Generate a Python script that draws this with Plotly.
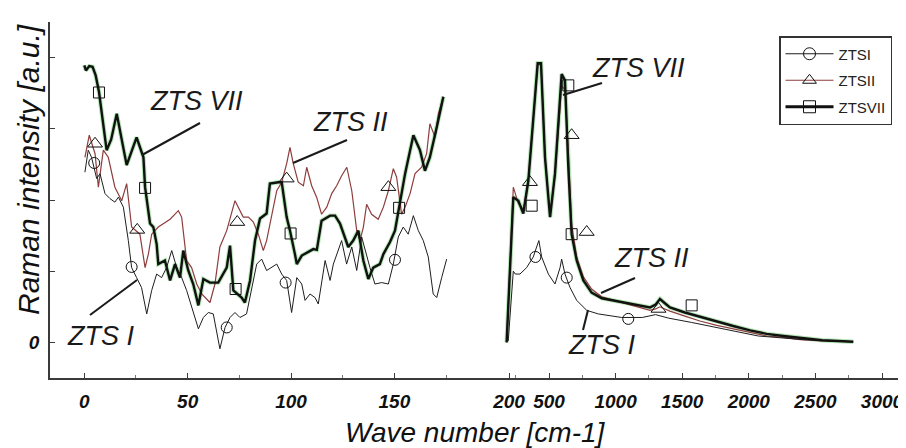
import plotly.graph_objects as go

# ---------------- data ----------------
# Left panel (0-175 cm-1)
L_I_x = [0.3, 1.9, 3.5, 6, 7.6, 10, 12.4, 14.8, 16.5, 18.9, 21.3, 22.9, 25.3, 27.7, 30.2, 32.6, 35, 37.4, 39.8, 42.3,
         44.7, 47.1, 49.5, 51.9, 55.2, 57.6, 60, 62.4, 65.6, 68.1, 70.5, 72.9, 75.3, 78.5, 81, 83.4, 85.8, 88.2, 93.1, 95.5,
         97.9, 100.3, 102.8, 105.2, 106.8, 109.2, 111.6, 113.2, 116.5, 118.9, 120.5, 124.5, 126.9, 129.4, 131.8, 134.2, 138.2, 140.6, 143.9, 147.1,
         149.5, 151.9, 154.3, 156.7, 159.2, 161.6, 164, 166.4, 168.8, 170.5, 172.9, 175.3]
L_I_y = [2.39, 2.70, 2.60, 2.30, 2.37, 2.09, 2.02, 1.97, 2.04, 1.90, 1.43, 1.05, 0.91, 0.77, 0.40, 0.73, 0.96, 0.91, 1.05, 1.29,
         1.05, 0.91, 0.73, 0.49, 0.19, 0.35, 0.42, 0.40, -0.09, 0.21, 0.35, 0.42, 0.35, 0.40, 0.77, 1.10, 1.17, 1.01, 1.10, 0.96,
         0.87, 0.42, 0.91, 0.82, 0.59, 0.68, 0.63, 0.54, 1.15, 0.87, 1.10, 1.43, 1.10, 1.34, 1.01, 1.48, 1.05, 0.82, 0.84, 0.82,
         1.10, 1.48, 1.62, 1.52, 1.78, 1.57, 1.43, 1.20, 0.68, 0.63, 0.91, 1.17]

L_II_x = [0.3, 2.4, 5.2, 6.8, 9.2, 11.6, 14.8, 18.1, 20.5, 22.9, 26.9, 29.4, 31, 32.6, 35.8, 41.5, 45.5, 47.1, 49.5, 51.9,
          54.4, 56.8, 60.8, 63.2, 65.6, 68.9, 72.9, 74.5, 76.9, 79.4, 81.8, 84.2, 86.6, 88.2, 90.6, 93.1, 95.5, 97.9, 99.5, 101.1,
          103.5, 106, 107.6, 110, 112.4, 114.8, 117.3, 119.7, 122.1, 124.5, 127, 129.4, 131.8, 133.4, 135, 136.6, 139, 142.2, 144.7, 147.1,
          149.5, 151.1, 153.5, 155.2, 157.6, 160, 163.2, 165.6, 167.2, 169.7, 171.3, 173.7]
L_II_y = [2.60, 2.91, 2.65, 2.18, 2.70, 2.60, 2.18, 1.99, 2.23, 1.62, 1.52, 1.05, 1.24, 1.52, 1.62, 1.73, 1.85, 1.76, 1.15, 1.05,
          0.82, 0.68, 0.56, 0.82, 1.34, 1.57, 1.99, 1.90, 1.76, 1.76, 1.69, 1.52, 1.29, 1.43, 1.76, 2.13, 2.25, 2.51, 2.74, 2.51,
          2.25, 2.20, 2.46, 2.20, 2.04, 1.80, 1.90, 2.09, 2.20, 2.34, 2.46, 2.13, 1.57, 1.43, 1.62, 1.94, 1.80, 1.73, 1.90, 2.13,
          2.44, 2.32, 1.80, 1.90, 2.09, 2.37, 2.46, 2.65, 3.07, 2.88, 3.21, 3.45]

L_VII_x = [0, 0.8, 2.4, 4, 5.5, 7.1, 10.8, 13, 15.7, 18, 20.5, 25.3, 28.6, 29.4, 31.8, 33.4, 35, 35.8, 39, 41.5,
           43.9, 46.3, 47.9, 50.3, 52.7, 55.2, 57.6, 60.8, 64.8, 68.9, 70.5, 72.1, 76.1, 77.7, 80.2, 82.6, 85, 88.2, 89.8, 93.9,
           95.5, 97.9, 99.5, 101.9, 102.8, 105.2, 110.8, 112.5, 114.8, 118.9, 121.3, 123.7, 127.7, 130.1, 132.6, 135, 137.4, 139.8, 143, 144.7,
           147.9, 150.3, 155.2, 159.2, 162.4, 164.8, 167.2, 170.5, 173.7]
L_VII_y = [3.89, 3.82, 3.88, 3.87, 3.75, 3.52, 2.70, 2.85, 3.21, 2.85, 2.49, 2.88, 2.60, 2.18, 1.67, 1.62, 1.38, 1.10, 1.15, 0.87,
           1.10, 0.91, 1.29, 1.01, 0.82, 0.52, 0.89, 0.84, 0.84, 1.05, 1.36, 0.73, 0.63, 0.56, 0.87, 1.43, 1.74, 1.81, 2.23, 2.25,
           2.25, 1.76, 1.57, 1.24, 1.10, 1.22, 1.31, 1.30, 1.71, 1.78, 1.78, 1.67, 1.34, 1.43, 1.57, 1.15, 0.89, 1.05, 1.10, 1.24,
           1.41, 1.57, 2.37, 2.91, 2.70, 2.41, 2.60, 3.02, 3.45]

# Right panel (200-3000 cm-1)
R_I_x = [194, 232, 247, 282, 332, 382, 407, 424, 445, 495, 545, 583, 595, 620, 658, 708, 783, 870, 1046, 1200,
         1300, 1400, 1571, 1800, 2071, 2400, 2784]
R_I_y = [0.02, 1.0, 0.96, 0.96, 1.05, 1.20, 1.34, 1.43, 1.20, 0.96, 0.82, 1.05, 1.17, 0.96, 0.77, 0.59, 0.45, 0.40, 0.35, 0.35,
         0.39, 0.34, 0.28, 0.19, 0.09, 0.04, 0.01]

R_x = [182, 207, 232, 270, 295, 307, 345, 370, 395, 415, 440, 470, 495, 508, 545, 570, 595, 620, 645, 670,
       708, 758, 820, 896, 1008, 1150, 1258, 1300, 1333, 1370, 1408, 1520, 1633, 1760, 1883, 2010, 2134, 2260, 2384, 2550,
       2784]
R_II_y = [0.0, 1.05, 2.18, 1.95, 1.9, 1.85, 2.3, 2.86, 3.5, 3.9, 3.9, 2.6, 2.06, 1.8, 2.35, 3.0, 3.6, 3.55, 2.7, 1.65,
          1.2, 0.92, 0.75, 0.64, 0.58, 0.50, 0.45, 0.47, 0.50, 0.47, 0.44, 0.37, 0.30, 0.24, 0.19, 0.14, 0.09, 0.07, 0.04, 0.02,
          0.01]
R_VII_y = [0.0, 0.96, 2.04, 1.99, 1.85, 1.81, 2.27, 2.84, 3.5, 3.92, 3.92, 2.6, 2.04, 1.76, 2.37, 3.07, 3.77, 3.68, 2.46, 1.52,
           1.15, 0.87, 0.70, 0.62, 0.58, 0.53, 0.49, 0.53, 0.61, 0.55, 0.49, 0.42, 0.36, 0.29, 0.23, 0.17, 0.12, 0.09, 0.06, 0.03,
           0.01]

# Sparse symbol positions
L_I_mx, L_I_my = [4.8, 22.9, 68.9, 97.4, 150.3], [2.52, 1.06, 0.21, 0.84, 1.16]
L_II_mx, L_II_my = [5.2, 25.6, 74, 97.9, 147.1], [2.79, 1.58, 1.69, 2.30, 2.18]
L_VII_mx, L_VII_my = [7.1, 29.4, 73.2, 99.8, 152.3], [3.51, 2.17, 0.75, 1.53, 1.89]
R_I_mx, R_I_my = [398, 633, 1095], [1.20, 0.91, 0.33]
R_II_mx, R_II_my = [357, 670, 783, 1322], [2.25, 2.91, 1.55, 0.47]
R_VII_mx, R_VII_my = [370, 645, 670, 1571], [1.92, 3.61, 1.52, 0.52]

left_ticks = [0, 50, 100, 150]
left_minor = [25, 75, 125, 175]
right_ticks = [200, 500, 1000, 1500, 2000, 2500, 3000]
right_minor = [250, 750, 1250, 1750, 2250, 2750]
y_ticks = [0, 1, 2, 3, 4]
y_ticktext = ["0", "", "", "", ""]

series_names = ["ZTSI", "ZTSII", "ZTSVII"]

# ---------------- styles ----------------
FONT = "Liberation Sans, Arial, sans-serif"
C_I = "#1e1e1e"
C_II = "#8e3d3d"
C_VII = "#111111"
HALO = "rgba(90,200,90,0.45)"
OFF = 8                      # default page margin of the html body
W, H = 906 - OFF, 448 - OFF
ML, MR, MT, MB = 50 - OFF, 2, 22 - OFF, 70
PW, PH = W - ML - MR, H - MT - MB
split = (475 - OFF - ML) / PW


def px(xp):
    """page pixel -> paper fraction"""
    return (xp - OFF - ML) / PW


def py(yp):
    return (H - MB - (yp - OFF)) / PH


fig = go.Figure()


def add_line(x, y, xa, ya, color, width):
    fig.add_trace(go.Scatter(x=x, y=y, mode="lines", xaxis=xa, yaxis=ya, showlegend=False,
                             line=dict(color=color, width=width), hoverinfo="skip"))


def add_marks(x, y, xa, ya, symbol, size):
    fig.add_trace(go.Scatter(x=x, y=y, mode="markers", xaxis=xa, yaxis=ya, showlegend=False,
                             marker=dict(symbol=symbol, size=size, color="#111111",
                                         line=dict(width=1, color="#111111")), hoverinfo="skip"))


for xa, ya, xI, yI, xII, yII, xV, yV in [
    ("x", "y", L_I_x, L_I_y, L_II_x, L_II_y, L_VII_x, L_VII_y),
    ("x2", "y2", R_I_x, R_I_y, R_x, R_II_y, R_x, R_VII_y),
]:
    add_line(xV, yV, xa, ya, HALO, 4.4)
    add_line(xII, yII, xa, ya, C_II, 1.2)
    add_line(xI, yI, xa, ya, C_I, 1.0)
    add_line(xV, yV, xa, ya, C_VII, 2.4)

add_marks(L_I_mx, L_I_my, "x", "y", "circle-open", 11)
add_marks(L_II_mx, L_II_my, "x", "y", "triangle-up-open", 13)
add_marks(L_VII_mx, L_VII_my, "x", "y", "square-open", 11)
add_marks(R_I_mx, R_I_my, "x2", "y2", "circle-open", 11)
add_marks(R_II_mx, R_II_my, "x2", "y2", "triangle-up-open", 13)
add_marks(R_VII_mx, R_VII_my, "x2", "y2", "square-open", 11)

# legend entries
for i, (name, col, wid, sym) in enumerate(zip(series_names, [C_I, C_II, C_VII], [1.0, 1.2, 3.0],
                                              ["circle-open", "triangle-up-open", "square-open"])):
    fig.add_trace(go.Scatter(x=[None], y=[None], mode="lines+markers", name=name, xaxis="x", yaxis="y",
                             legendgroup="g%d" % i,
                             line=dict(color=col, width=wid),
                             marker=dict(symbol=sym, size=12, color="#111111", line=dict(width=1, color="#111111"))))

axis_common = dict(showline=True, linecolor="#3a3a3a", linewidth=1.6, ticks="inside", ticklen=5,
                   tickcolor="#3a3a3a", tickwidth=1.2, showgrid=False, zeroline=False,
                   tickfont=dict(family=FONT, size=19, color="#111111", style="italic", weight="bold"),
                   ticklabelstandoff=5)

fig.update_layout(
    width=W, height=H, margin=dict(l=ML, r=MR, t=MT, b=MB, autoexpand=False),
    paper_bgcolor="white", plot_bgcolor="white",
    xaxis=dict(domain=[0, split], range=[(50 - 84.3) / 2.067, (475 - 84.3) / 2.067], anchor="y",
               tickmode="array", tickvals=left_ticks,
               minor=dict(tickmode="array", tickvals=left_minor, ticks="inside", ticklen=3, tickcolor="#777777"),
               **axis_common),
    xaxis2=dict(domain=[split, 1], range=[500 + (475 - 549) / 0.1332, 500 + (904 - 549) / 0.1332], anchor="y2",
                tickmode="array", tickvals=right_ticks,
                minor=dict(tickmode="array", tickvals=right_minor, ticks="inside", ticklen=3, tickcolor="#777777"),
                **axis_common),
    yaxis=dict(domain=[0, 1], range=[-0.5, 4.5], anchor="x", tickmode="array", tickvals=y_ticks,
               ticktext=y_ticktext, **axis_common),
    yaxis2=dict(domain=[0, 1], range=[-0.5, 4.5], anchor="x2", matches="y", visible=False),
    legend=dict(x=px(779), y=py(36), xanchor="left", yanchor="top", bgcolor="white",
                bordercolor="#333333", borderwidth=1.5, tracegroupgap=4, itemwidth=48,
                entrywidth=70,
                font=dict(family=FONT, size=15, color="#222222")),
    showlegend=True,
)

# axis titles
fig.add_annotation(text="Wave number [cm-1]", xref="paper", yref="paper", x=px(475), y=py(432),
                   xanchor="center", yanchor="middle",
                   showarrow=False, font=dict(family=FONT, size=28, color="#111111", style="italic"))
fig.add_annotation(text="Raman intensity [a.u.]", xref="paper", yref="paper", x=px(28), y=py(170),
                   xanchor="center", yanchor="middle",
                   showarrow=False, textangle=-90,
                   font=dict(family=FONT, size=30, color="#111111", style="italic"))

# series labels with leader lines
labels = [("ZTS VII", 196, 101, (200, 123), (142, 155)),
          ("ZTS II", 350, 122, (347, 140), (293, 163)),
          ("ZTS I", 100, 336, (90, 315), (137, 280)),
          ("ZTS VII", 638, 68, (602, 83), (563, 95)),
          ("ZTS II", 651, 258, (635, 278), (601, 293)),
          ("ZTS I", 601, 345, (588, 310), (583, 330))]
for text, cx, cy, p0, p1 in labels:
    fig.add_annotation(text=text, xref="paper", yref="paper", x=px(cx), y=py(cy), showarrow=False,
                       xanchor="center", yanchor="middle",
                       font=dict(family=FONT, size=27, color="#1a1a1a", style="italic"))
    fig.add_shape(type="line", xref="paper", yref="paper", x0=px(p0[0]), y0=py(p0[1]),
                  x1=px(p1[0]), y1=py(p1[1]), line=dict(color="#1a1a1a", width=2))

fig.write_html("out.html")
